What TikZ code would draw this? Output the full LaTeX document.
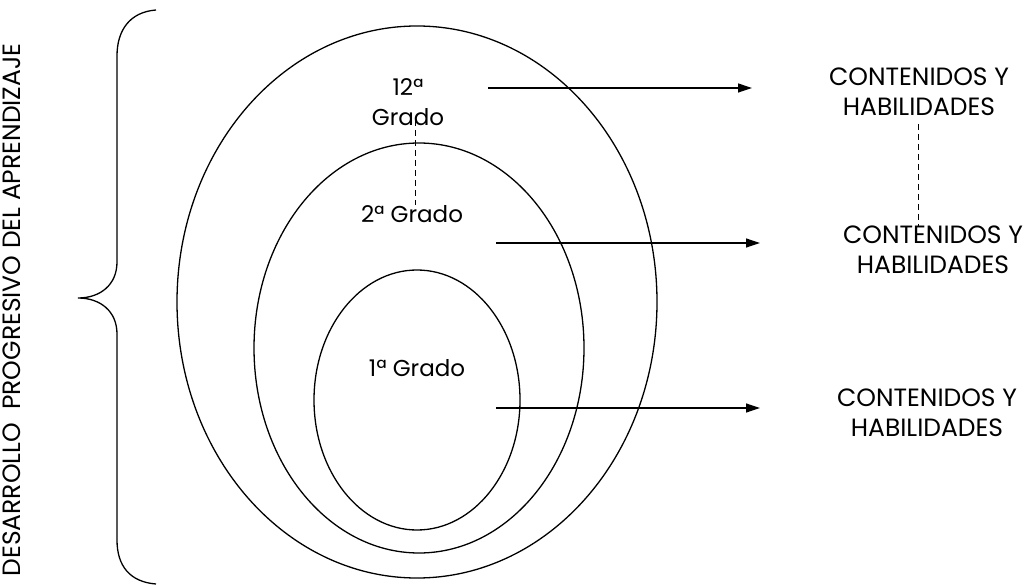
\documentclass[tikz,border=0pt]{standalone}
\usepackage{fontspec}
\setmainfont{Poppins}
\usepackage{tikz}
\usetikzlibrary{arrows.meta, calc, positioning}

\tikzset{
  rotulo/.style={font=\fontsize{25}{30}\selectfont, align=center, inner sep=0pt},
  grado/.style={font=\fontsize{23}{30}\selectfont, align=center, inner sep=0pt},
  flecha/.style={line width=1.2pt, -{Triangle[length=14pt, width=9pt]}},
  guia/.style={line width=1pt, dash pattern=on 6pt off 4pt},
  anillo/.style={line width=1.3pt}
}

\begin{document}
\begin{tikzpicture}[x=1pt, y=-1pt]
    \useasboundingbox (0,0) rectangle (1036,585);

    % Grade ellipses (outer = 12th, inner = 1st)
    \draw[anillo] (417,302) ellipse [x radius=240, y radius=276];
    \draw[anillo] (419,348) ellipse [x radius=165, y radius=205];
    \draw[anillo] (417,400) ellipse [x radius=103, y radius=130];

    % Brace and side caption
    \draw[line width=1.3pt] (156,10) .. controls (130,12) and (117,30) .. (117,56)
        -- (117,262) .. controls (117,285) and (100,298) .. (78,298)
        .. controls (100,298) and (117,311) .. (117,334)
        -- (117,540) .. controls (117,566) and (130,582) .. (156,584);
    \node[rotulo, rotate=90] (lado) at (12,310) {DESARROLLO\ \ PROGRESIVO DEL APRENDIZAJE};

    % Grade labels
    \node[grado] (g12) at (408,102) {12ª\\Grado};
    \node[grado] (g2) at (412,214) {2ª Grado};
    \node[grado] (g1) at (417,368) {1ª Grado};

    % Outcome labels
    \node[rotulo] (c12) at (919,92) {CONTENIDOS Y\\HABILIDADES};
    \node[rotulo] (c2) at (933,250) {CONTENIDOS Y\\HABILIDADES};
    \node[rotulo] (c1) at (927,413) {CONTENIDOS Y\\HABILIDADES};

    % Arrow ends
    \coordinate (a12) at (488,88);
    \coordinate (b12) at (752,88);
    \coordinate (a2) at (496,243);
    \coordinate (b2) at (760,243);
    \coordinate (a1) at (496,408);
    \coordinate (b1) at (760,408);
    \draw[flecha] (a12) -- (b12);
    \draw[flecha] (a2) -- (b2);
    \draw[flecha] (a1) -- (b1);

    % Dashed continuity marks
    \coordinate (d1) at (415,120);
    \coordinate (d2) at (415,205);
    \coordinate (e1) at (918,124);
    \coordinate (e2) at (918,226);
    \draw[guia] (d1) -- (d2);
    \draw[guia] (e1) -- (e2);
\end{tikzpicture}
\end{document}
